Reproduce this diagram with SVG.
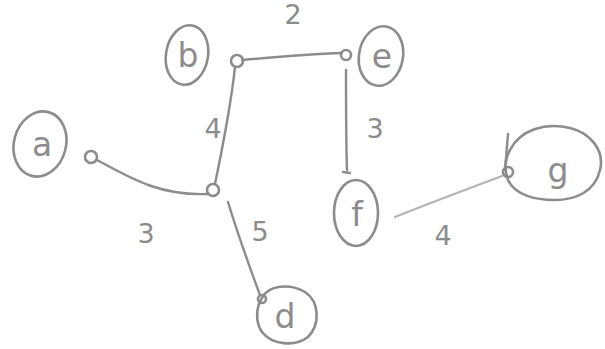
<svg xmlns="http://www.w3.org/2000/svg" width="605" height="349" viewBox="0 0 605 349">
  <style>
    .ring { fill: none; stroke: #8c8c8c; stroke-width: 2.6; stroke-linecap: round; stroke-linejoin: round; }
    .edge { fill: none; stroke: #8c8c8c; stroke-width: 2.4; stroke-linecap: round; }
    .faint { stroke: #b4b4b4; }
    .lbl { font-family: "DejaVu Sans", "Liberation Sans", sans-serif; fill: #8c8c8c; font-size: 33px; text-anchor: middle; }
    .w { font-family: "DejaVu Sans", "Liberation Sans", sans-serif; fill: #8c8c8c; font-size: 27px; text-anchor: middle; }
  </style>
  <rect width="605" height="349" fill="#ffffff"/>

  <g id="connectors">
    <path class="edge" d="M97,160 C130,178 160,196 208,194"/>
    <path class="edge" d="M235,67 C231,105 222,150 215,184"/>
    <path class="edge" d="M242,60 C275,57 310,54 342,53"/>
    <path class="edge" d="M346,70 C346,105 346,140 347,170 M343,172 L350,173"/>
    <path class="edge faint" d="M395,217 C430,203 470,188 502,176"/>
    <path class="edge" d="M228,202 C238,235 250,268 260,295"/>
  </g>

  <g id="weights">
    <text class="w" x="146" y="243">3</text>
    <text class="w" x="213" y="138">4</text>
    <text class="w" x="293" y="24">2</text>
    <text class="w" x="375" y="138">3</text>
    <text class="w" x="443" y="245">4</text>
    <text class="w" x="260" y="241">5</text>
  </g>

  <g id="node-a">
    <ellipse class="ring" cx="40" cy="144" rx="26" ry="33" transform="rotate(15 40 144)"/>
    <text class="lbl" x="42" y="156">a</text>
  </g>
  <g id="port-a">
    <circle class="ring" cx="91" cy="157" r="6"/>
  </g>
  <g id="node-c">
    <circle class="ring" cx="213" cy="190" r="6"/>
  </g>
  <g id="node-b">
    <ellipse class="ring" cx="187" cy="55" rx="21" ry="30" transform="rotate(10 187 55)"/>
    <text class="lbl" x="188" y="67">b</text>
  </g>
  <g id="port-b">
    <circle class="ring" cx="237" cy="61" r="6"/>
  </g>
  <g id="port-e">
    <circle class="ring" cx="346" cy="55" r="5"/>
  </g>
  <g id="node-e">
    <ellipse class="ring" cx="381" cy="56" rx="22" ry="30" transform="rotate(10 381 56)"/>
    <text class="lbl" x="382" y="68">e</text>
  </g>
  <g id="node-f">
    <ellipse class="ring" cx="356" cy="213" rx="22" ry="33"/>
    <text class="lbl" x="357" y="226">f</text>
  </g>
  <g id="node-g">
    <path class="ring" d="M510,150 C520,130 545,122 570,128 C590,133 605,150 600,170 C595,192 575,200 555,200 C535,200 515,195 508,180 C504,170 505,158 510,150 Z"/>
    <line class="edge" x1="508" y1="134" x2="505" y2="170"/>
    <circle class="ring" cx="508" cy="172" r="5"/>
    <text class="lbl" x="558" y="182">g</text>
  </g>
  <g id="node-d">
    <path class="ring" d="M262,298 C268,285 290,283 305,292 C320,302 320,325 308,337 C295,347 272,345 262,332 C255,322 256,307 262,298 Z"/>
    <circle class="ring" cx="262" cy="299" r="4"/>
    <text class="lbl" x="285" y="328">d</text>
  </g>
</svg>
